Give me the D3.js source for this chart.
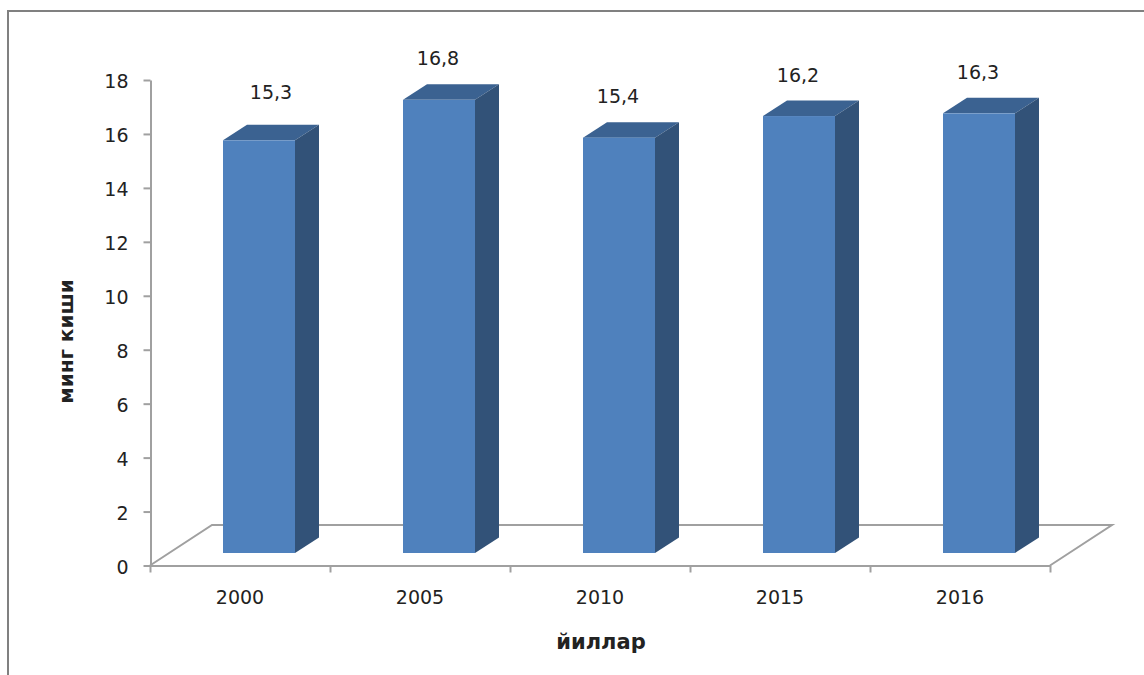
<!DOCTYPE html>
<html>
<head>
<meta charset="utf-8">
<script src="https://cdn.jsdelivr.net/npm/d3@7"></script>
<style>
html,body{margin:0;padding:0;background:#fff;overflow:hidden}
svg{display:block}
text{font-family:"DejaVu Sans",sans-serif;fill:#222}
</style>
</head>
<body>
<svg id="c" width="1144" height="675"></svg>
<script>
const categories = ["2000","2005","2010","2015","2016"];
const values = [15.3,16.8,15.4,16.2,16.3];
const valueLabels = ["15,3","16,8","15,4","16,2","16,3"];
const yTicks = [0,2,4,6,8,10,12,14,16,18];
const xTitle = "йиллар";
const yTitle = "минг киши";

const svg = d3.select("#c");
const axisColor = "#a0a0a0";

// frame
svg.append("path").attr("d","M8,675V11H1144").attr("fill","none").attr("stroke","#808080").attr("stroke-width",2);

const y = d3.scaleLinear().domain([0,18]).range([565.5,80]);
const x = d3.scaleBand().domain(categories).range([150,1050]);
const depthX = 62, depthY = 40.5;      // floor depth
const barW = 72, barDX = 24, barDY = 15.5, barLift = 12.5, barShift = 19;

// floor
svg.append("path")
  .attr("d",`M${x.range()[0]},${y(0)}L${x.range()[0]+depthX},${y(0)-depthY}H${x.range()[1]+depthX}L${x.range()[1]},${y(0)}`)
  .attr("fill","none").attr("stroke",axisColor).attr("stroke-width",2);

// y axis
const gy = svg.append("g").attr("transform","translate(150.5,0)")
  .call(d3.axisLeft(y).tickValues(yTicks).tickSize(7).tickPadding(15).tickSizeOuter(0));
gy.selectAll("path,line").attr("stroke",axisColor).attr("stroke-width",2);
gy.selectAll("text").attr("font-size",19).attr("dy","0.42em").style("fill","#222");

// x axis
const gx = svg.append("g").attr("transform",`translate(0,${y(0)})`)
  .call(d3.axisBottom(x).tickSize(0).tickPadding(23).tickSizeOuter(0));
gx.select("path").attr("stroke",axisColor).attr("stroke-width",2);
gx.selectAll("text").attr("font-size",19).attr("dy","0.82em").style("fill","#222");
gx.selectAll("line.b").data(d3.range(categories.length+1)).enter().append("line").attr("class","b")
  .attr("x1",i=>x.range()[0]+i*x.step()+0.5).attr("x2",i=>x.range()[0]+i*x.step()+0.5)
  .attr("y1",0).attr("y2",7).attr("stroke",axisColor).attr("stroke-width",2);

// bars
const data = categories.map((c,i)=>({c,v:values[i],l:valueLabels[i],i}));
const bar = svg.append("g").selectAll("g").data(data).enter().append("g");
const L = d=>x(d.c)+x.step()/2-barW/2+barShift;
const base = y(0)-barLift;
const top_ = d=>base-(y(0)-y(d.v));
bar.append("path").attr("fill","#3b6291")
  .attr("d",d=>`M${L(d)},${top_(d)}l${barDX},${-barDY}h${barW}l${-barDX},${barDY}z`);
bar.append("path").attr("fill","#325278")
  .attr("d",d=>`M${L(d)+barW},${top_(d)}l${barDX},${-barDY}V${base-barDY}l${-barDX},${barDY}z`);
bar.append("rect").attr("fill","#4f81bd")
  .attr("x",L).attr("y",top_).attr("width",barW).attr("height",d=>base-top_(d));

// value labels (the first label sits apart, as in the reference)
const nudgeFirst = {dx:13,dy:-7};
bar.append("text").attr("font-size",19).attr("text-anchor","middle")
  .attr("x",d=>L(d)+barW/2-1+(d.i===0?nudgeFirst.dx:0))
  .attr("y",d=>top_(d)-34.5+(d.i===0?nudgeFirst.dy:0))
  .text(d=>d.l);

// titles
svg.append("text").attr("x",601).attr("y",649).attr("text-anchor","middle")
  .attr("font-size",21).attr("font-weight","bold").text(xTitle);
svg.append("text").attr("transform","translate(73,341.5) rotate(-90)").attr("text-anchor","middle")
  .attr("font-size",20).attr("font-weight","bold").text(yTitle);
</script>
</body>
</html>
